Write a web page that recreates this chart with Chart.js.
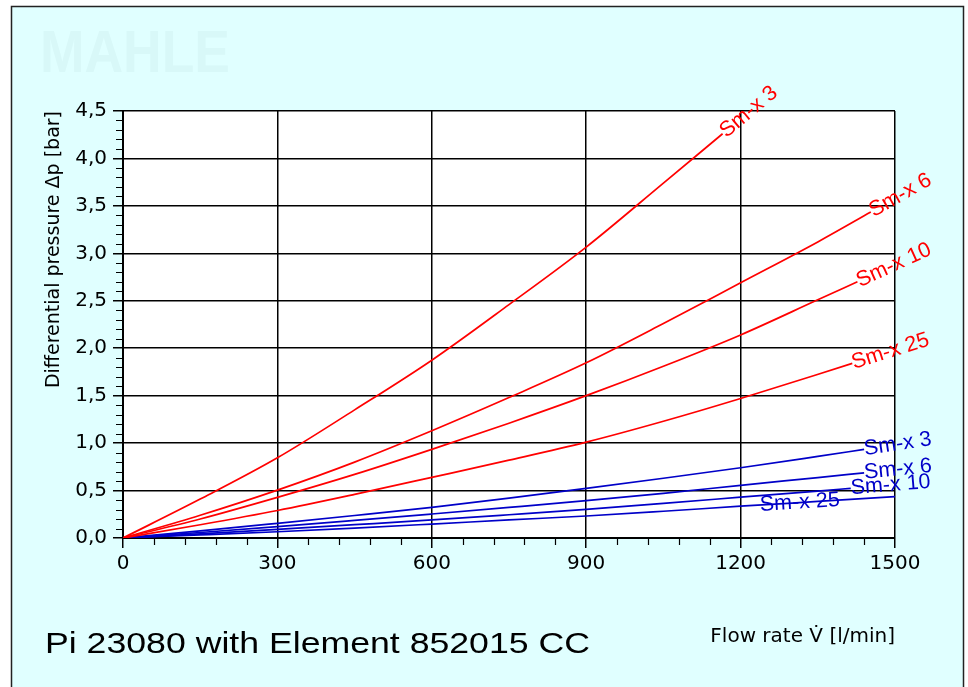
<!DOCTYPE html>
<html><head><meta charset="utf-8">
<script src="https://cdn.jsdelivr.net/npm/chart.js@4.4.0/dist/chart.umd.min.js"></script>
<style>html,body{margin:0;padding:0;background:#fff;overflow:hidden}
#wrap{position:absolute;left:0;top:0;width:968px;height:687px}</style></head>
<body><div id="wrap"><canvas id="c" width="968" height="687"></canvas></div>
<script>
// ---------- data ----------
const chartTitle = 'Pi 23080 with Element 852015 CC';
const xTitle = 'Flow rate V\u0307 [l/min]';
const yTitle = 'Differential pressure \u0394p [bar]';
const watermark = 'MAHLE';

const xTickValues = [0, 300, 600, 900, 1200, 1500];
const xTickLabels = ['0', '300', '600', '900', '1200', '1500'];
const yTickValues = [0, 0.5, 1, 1.5, 2, 2.5, 3, 3.5, 4, 4.5];
const yTickLabels = ['0,0', '0,5', '1,0', '1,5', '2,0', '2,5', '3,0', '3,5', '4,0', '4,5'];

const curveNames = ['Sm-x 3', 'Sm-x 6', 'Sm-x 10', 'Sm-x 25'];

// red curves
const red3Flow  = [0, 150, 300, 450, 600, 750, 900, 1050, 1165];
const red3Dp    = [0, 0.41, 0.845, 1.35, 1.874, 2.46, 3.066, 3.74, 4.26];
const red6Flow  = [0, 150, 300, 450, 600, 750, 900, 1050, 1200, 1350, 1453];
const red6Dp    = [0, 0.24, 0.505, 0.8, 1.13, 1.48, 1.846, 2.26, 2.69, 3.12, 3.435];
const red10Flow = [0, 150, 300, 450, 600, 750, 900, 1050, 1200, 1350, 1427];
const red10Dp   = [0, 0.2, 0.428, 0.67, 0.934, 1.21, 1.5, 1.81, 2.14, 2.51, 2.7];
const red25Flow = [0, 150, 300, 450, 600, 750, 900, 1050, 1200, 1417];
const red25Dp   = [0, 0.14, 0.29, 0.46, 0.639, 0.82, 1.01, 1.23, 1.47, 1.84];

// blue curves
const blue3Flow  = [0, 150, 300, 450, 600, 750, 900, 1050, 1200, 1350, 1440];
const blue3Dp    = [0, 0.075, 0.155, 0.237, 0.323, 0.42, 0.523, 0.63, 0.74, 0.86, 0.934];
const blue6Flow  = [0, 150, 300, 450, 600, 750, 900, 1050, 1200, 1350, 1440];
const blue6Dp    = [0, 0.058, 0.119, 0.185, 0.253, 0.322, 0.393, 0.47, 0.555, 0.637, 0.687];
const blue10Flow = [0, 150, 300, 450, 600, 750, 900, 1050, 1200, 1350, 1414];
const blue10Dp   = [0, 0.044, 0.091, 0.14, 0.19, 0.245, 0.302, 0.365, 0.43, 0.495, 0.523];
const blue25Flow = [0, 150, 300, 450, 600, 750, 900, 1050, 1200, 1350, 1500];
const blue25Dp   = [0, 0.032, 0.066, 0.105, 0.147, 0.19, 0.232, 0.282, 0.335, 0.385, 0.435];

// ---------- styling ----------
const RED = '#ff0000', BLUE = '#0000c8';
const BG = '#e0ffff';
const TICK_FONT = {family: '"DejaVu Sans"', size: 20};
const LABEL_FONT = '21.5px "Liberation Sans"';

function pts(flow, dp) { return flow.map((f, i) => ({x: f, y: dp[i]})); }
function ds(name, flow, dp, color, centerAt) {
  return {label: name, data: pts(flow, dp), borderColor: color, backgroundColor: color,
    borderWidth: 1.7, pointRadius: 0, showLine: true, fill: false,
    cubicInterpolationMode: 'monotone', labelCenterAt: centerAt};
}

const datasets = [
  ds(curveNames[0], red3Flow, red3Dp, RED),
  ds(curveNames[1], red6Flow, red6Dp, RED),
  ds(curveNames[2], red10Flow, red10Dp, RED),
  ds(curveNames[3], red25Flow, red25Dp, RED),
  ds(curveNames[0], blue3Flow, blue3Dp, BLUE),
  ds(curveNames[1], blue6Flow, blue6Dp, BLUE),
  ds(curveNames[2], blue10Flow, blue10Dp, BLUE),
  ds(curveNames[3], blue25Flow, blue25Dp, BLUE, 1315)
];

const backgroundPlugin = {
  id: 'bg',
  beforeDraw(chart) {
    const ctx = chart.ctx, a = chart.chartArea;
    ctx.save();
    ctx.fillStyle = '#fff';
    ctx.fillRect(0, 0, chart.width, chart.height);
    ctx.fillStyle = BG;
    ctx.fillRect(11, 6, 953, 700);
    ctx.strokeStyle = '#222';
    ctx.lineWidth = 1.5;
    ctx.strokeRect(11.5, 6.5, 952, 700);
    // watermark
    ctx.fillStyle = '#d8f8f8';
    ctx.font = 'bold 59px "Liberation Sans"';
    ctx.textBaseline = 'alphabetic';
    const w = ctx.measureText(watermark).width;
    ctx.translate(40, 72);
    ctx.scale(190 / w, 1);
    ctx.fillText(watermark, 0, 0);
    ctx.restore();
    ctx.save();
    ctx.fillStyle = '#fff';
    ctx.fillRect(a.left, a.top, a.right - a.left, a.bottom - a.top);
    ctx.restore();
  }
};

const minorTickPlugin = {
  id: 'minorTicks',
  afterDraw(chart) {
    const ctx = chart.ctx, xs = chart.scales.x, ys = chart.scales.y, a = chart.chartArea;
    ctx.save();
    ctx.strokeStyle = '#000';
    ctx.lineWidth = 1.2;
    ctx.beginPath();
    for (let k = 1; k < 45; k++) {
      if (k % 5 === 0) continue;
      const y = Math.round(ys.getPixelForValue(k / 10)) + 0.5;
      ctx.moveTo(a.left - 7, y); ctx.lineTo(a.left, y);
    }
    for (let k = 1; k < 25; k++) {
      if (k % 5 === 0) continue;
      const x = Math.round(xs.getPixelForValue(k * 60)) + 0.5;
      ctx.moveTo(x, a.bottom); ctx.lineTo(x, a.bottom + 7);
    }
    ctx.stroke();
    ctx.restore();
  }
};

const curveLabelPlugin = {
  id: 'curveLabels',
  afterDatasetsDraw(chart) {
    const ctx = chart.ctx, xs = chart.scales.x, ys = chart.scales.y;
    ctx.save();
    ctx.font = LABEL_FONT;
    ctx.textBaseline = 'middle';
    chart.data.datasets.forEach((d, i) => {
      const data = d.data;
      let px, py, ang, align;
      if (d.labelCenterAt == null) {
        const p1 = data[data.length - 2], p2 = data[data.length - 1];
        const x1 = xs.getPixelForValue(p1.x), y1 = ys.getPixelForValue(p1.y);
        px = xs.getPixelForValue(p2.x); py = ys.getPixelForValue(p2.y);
        ang = Math.atan2(py - y1, px - x1);
        align = 'left';
      } else {
        const f = d.labelCenterAt;
        let j = 1;
        while (j < data.length - 1 && data[j].x < f) j++;
        const p1 = data[j - 1], p2 = data[j];
        const t = (f - p1.x) / (p2.x - p1.x);
        const v = p1.y + t * (p2.y - p1.y);
        px = xs.getPixelForValue(f); py = ys.getPixelForValue(v);
        ang = Math.atan2(ys.getPixelForValue(p2.y) - ys.getPixelForValue(p1.y),
                         xs.getPixelForValue(p2.x) - xs.getPixelForValue(p1.x));
        align = 'center';
      }
      ctx.save();
      ctx.translate(px, py);
      ctx.rotate(ang);
      ctx.textAlign = align;
      ctx.fillStyle = d.borderColor;
      ctx.fillText(d.label, 0, 0);
      ctx.restore();
    });
    ctx.restore();
  }
};

const titlePlugin = {
  id: 'mainTitle',
  afterDraw(chart) {
    const ctx = chart.ctx;
    ctx.save();
    ctx.fillStyle = '#000';
    ctx.font = '29px "Liberation Sans"';
    ctx.textBaseline = 'alphabetic';
    ctx.textAlign = 'left';
    const w = ctx.measureText(chartTitle).width;
    ctx.translate(45, 653);
    ctx.scale(545 / w, 1);
    ctx.fillText(chartTitle, 0, 0);
    ctx.restore();
  }
};

new Chart(document.getElementById('c'), {
  type: 'scatter',
  data: {datasets},
  options: {
    responsive: false,
    animation: false,
    devicePixelRatio: 1,
    layout: {padding: {left: 0, top: 111, right: 73, bottom: 20}},
    plugins: {legend: {display: false}, tooltip: {enabled: false}, title: {display: false}},
    scales: {
      x: {
        type: 'linear', min: 0, max: 1500,
        afterBuildTicks: s => { s.ticks = xTickValues.map(v => ({value: v})); },
        afterFit: s => { s.height = 129; },
        ticks: {autoSkip: false, maxRotation: 0, color: '#000', font: TICK_FONT, padding: 4,
                callback: (v, i) => xTickLabels[i]},
        grid: {color: '#000', lineWidth: 1.5, tickLength: 10, tickColor: '#000', tickWidth: 1.5},
        border: {display: true, color: '#000', width: 2},
        title: {display: true, text: xTitle, align: 'end', color: '#000',
                font: {family: '"DejaVu Sans"', size: 20}, padding: {top: 0, bottom: 18}}
      },
      y: {
        type: 'linear', min: 0, max: 4.5,
        afterBuildTicks: s => { s.ticks = yTickValues.map(v => ({value: v})); },
        afterFit: s => { s.width = 123; },
        ticks: {autoSkip: false, color: '#000', font: TICK_FONT, padding: 6,
                callback: (v, i) => yTickLabels[i]},
        grid: {color: '#000', lineWidth: 1.5, tickLength: 10, tickColor: '#000', tickWidth: 1.5},
        border: {display: true, color: '#000', width: 2},
        title: {display: true, text: yTitle, align: 'end', color: '#000',
                font: {family: '"DejaVu Sans"', size: 19}, padding: {top: 43, bottom: 0}}
      }
    }
  },
  plugins: [backgroundPlugin, minorTickPlugin, curveLabelPlugin, titlePlugin]
});
</script>
</body></html>
